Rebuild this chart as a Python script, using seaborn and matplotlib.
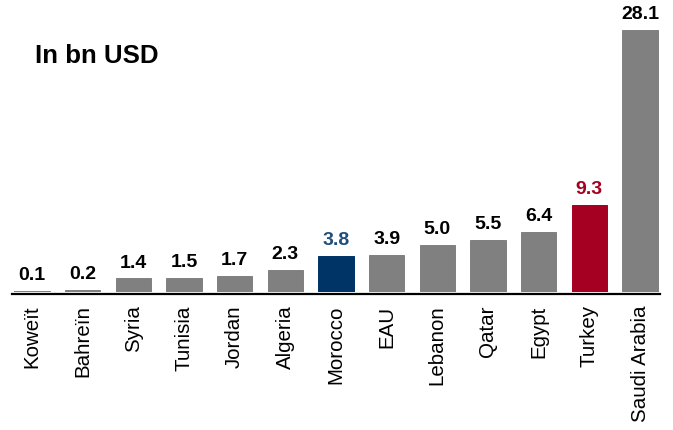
import matplotlib
matplotlib.use("Agg")
import matplotlib.pyplot as plt
import seaborn as sns
import pandas as pd

countries = ["Koweït", "Bahreïn", "Syria", "Tunisia", "Jordan", "Algeria", "Morocco",
             "EAU", "Lebanon", "Qatar", "Egypt", "Turkey", "Saudi Arabia"]
values = [0.1, 0.2, 1.4, 1.5, 1.7, 2.3, 3.8, 3.9, 5.0, 5.5, 6.4, 9.3, 28.1]
bar_colors = ["#808080"] * 6 + ["#003366"] + ["#808080"] * 4 + ["#A50021", "#808080"]
label_colors = ["#000000"] * 6 + ["#1F4E79"] + ["#000000"] * 4 + ["#A50021", "#000000"]
title = "In bn USD"

sns.set_theme(style="white")
plt.rcParams['font.family'] = ['Liberation Sans', 'DejaVu Sans']
plt.rcParams['text.color'] = 'black'
plt.rcParams['xtick.color'] = 'black'

W, H = 673, 430
fig = plt.figure(figsize=(W / 100, H / 100), dpi=100)
px_unit = (640 - 32) / 12
left_px = 32 - 0.4 * px_unit
right_px = 640 + 0.4 * px_unit
ymax = 30
bottom_px = H - 291.5
height_px = ymax * 9.3
ax = fig.add_axes([left_px / W, bottom_px / H, (right_px - left_px) / W, height_px / H])

df = pd.DataFrame({"country": countries, "value": values})
sns.barplot(data=df, x="country", y="value", hue="country", palette=bar_colors,
            legend=False, width=0.70, saturation=1, ax=ax)
for p, c in zip(ax.patches, bar_colors):
    p.set_edgecolor(c)
    p.set_linewidth(0.7)
ax.set_xlim(-0.4, 12.4)
ax.set_ylim(0, ymax)

for i, (v, c) in enumerate(zip(values, label_colors)):
    ax.annotate(f"{v:.1f}", (i, v), xytext=(0, 5), textcoords="offset points",
                ha="center", va="bottom", fontsize=14, fontweight="bold", color=c)

for s in ["top", "right", "left"]:
    ax.spines[s].set_visible(False)
ax.spines["bottom"].set_color("black")
ax.spines["bottom"].set_linewidth(1.6)
ax.spines["bottom"].set_position(("outward", 2))
ax.set_yticks([])
ax.set_xlabel("")
ax.set_ylabel("")
ax.tick_params(axis="x", length=0, pad=8, labelsize=14.8, rotation=90, colors="black")
for t in ax.get_xticklabels():
    t.set_va("top")

fig.text(35 / W, 1 - 56 / H, title, fontsize=18.6, fontweight="bold", ha="left", va="center")

fig.savefig("out.png", dpi=100, facecolor="white")
